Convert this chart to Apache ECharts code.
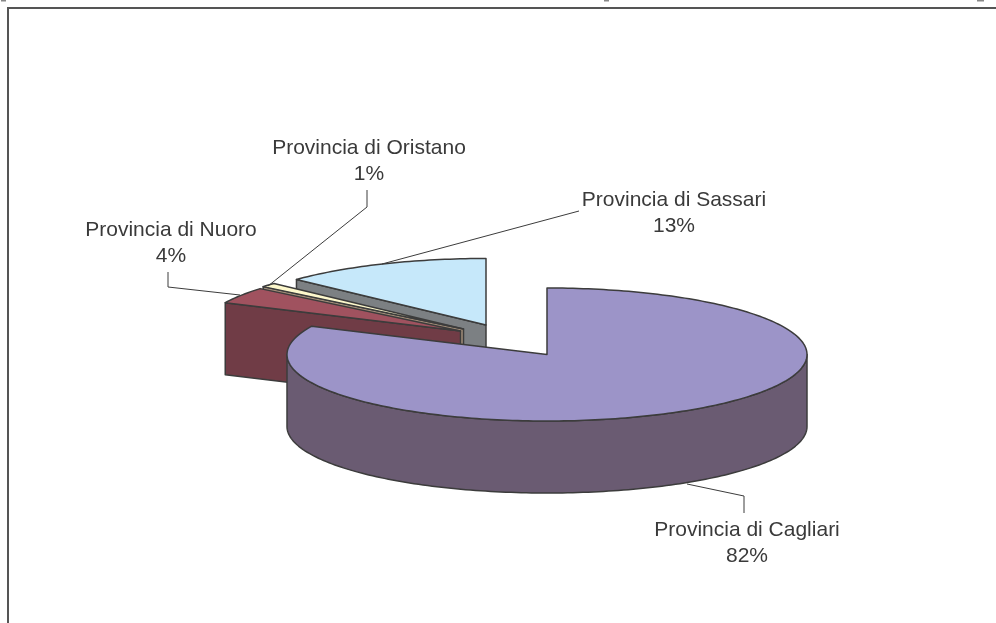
<!DOCTYPE html>
<html>
<head>
<meta charset="utf-8">
<style>
  html, body { margin: 0; padding: 0; background: #fff; }
  #chart { width: 996px; height: 623px; }
</style>
<script src="https://cdn.jsdelivr.net/npm/echarts@6/dist/echarts.min.js"></script>
</head>
<body>
<div id="chart"></div>
<script>
  var names = ['Provincia di Cagliari', 'Provincia di Nuoro', 'Provincia di Oristano', 'Provincia di Sassari'];
  var percents = [82, 4, 1, 13];

  // colori: faccia superiore, parete
  var topColors = ['#9c94c8', '#a0525f', '#fdf8cc', '#c6e8fa'];
  var sideColors = ['#6a5b72', '#703c46', '#a08c78', '#7c8083'];

  // layout della torta "esplosa"
  var RX = 260, RY = 66.5, DEPTH = 72;
  var centres = [[547, 354.5], [460.5, 331], [463.5, 329], [486, 325]];
  var labelPos = [[747, 543.5], [171, 243.5], [369, 161.5], [674, 213.5]];
  var leaders = [
    [[744, 513], [744, 496], [687, 484]],
    [[168, 272], [168, 287], [240, 295]],
    [[367, 190], [367, 207], [268, 286]],
    [[579, 211], [382, 264]]
  ];

  var EDGE = '#3c3c3c';
  var TEXT = '#3a3a3a';

  // angoli di partenza in senso orario dalle ore 12
  var starts = [];
  var total = percents.reduce(function (a, b) { return a + b; }, 0);
  var acc = 0;
  percents.forEach(function (v) {
    starts.push(acc / total * Math.PI * 2);
    acc += v;
  });

  function rim(i, a, drop) {
    return [
      centres[i][0] + Math.sin(a) * RX,
      centres[i][1] - Math.cos(a) * RY + (drop || 0)
    ];
  }

  function arc(i, a0, a1, drop) {
    var pts = [];
    var n = Math.max(2, Math.ceil((a1 - a0) / 0.02));
    for (var k = 0; k <= n; k++) {
      pts.push(rim(i, a0 + (a1 - a0) * k / n, drop));
    }
    return pts;
  }

  function poly(points, fill) {
    return {
      type: 'polygon',
      shape: { points: points },
      style: { fill: fill, stroke: EDGE, lineWidth: 1.5, lineJoin: 'round' }
    };
  }

  function renderSlice(params, api) {
    var i = api.value(0);
    var a0 = starts[i];
    var a1 = a0 + percents[i] / total * Math.PI * 2;
    var c = centres[i];
    var children = [];

    // parete del taglio verso l'osservatore
    if (a0 > Math.PI) {
      children.push(poly([c, rim(i, a0), rim(i, a0, DEPTH), [c[0], c[1] + DEPTH]], sideColors[i]));
    }
    // parete esterna, solo la parte davanti
    var w0 = Math.max(a0, Math.PI / 2), w1 = Math.min(a1, Math.PI * 1.5);
    if (w1 > w0) {
      children.push(poly(arc(i, w0, w1).concat(arc(i, w0, w1, DEPTH).reverse()), sideColors[i]));
    }
    children.push(poly([c].concat(arc(i, a0, a1)), topColors[i]));
    return { type: 'group', children: children };
  }

  function renderLabel(params, api) {
    var i = api.value(0);
    return {
      type: 'group',
      children: [
        {
          type: 'polyline',
          shape: { points: leaders[i] },
          style: { fill: null, stroke: EDGE, lineWidth: 1 }
        },
        {
          type: 'text',
          style: {
            x: labelPos[i][0],
            y: labelPos[i][1],
            text: names[i] + '\n' + percents[i] + '%',
            align: 'center',
            verticalAlign: 'middle',
            fontFamily: 'Liberation Sans',
            fontSize: 21,
            lineHeight: 26,
            fill: TEXT
          }
        }
      ]
    };
  }

  var myChart = echarts.init(document.getElementById('chart'));
  myChart.setOption({
    animation: false,
    backgroundColor: '#fff',
    graphic: [
      {
        type: 'polyline',
        shape: { points: [[8, 623], [8, 8], [996, 8]] },
        style: { fill: null, stroke: '#555', lineWidth: 2 }
      },
      // resti di testo tagliato sul bordo alto
      { type: 'rect', shape: { x: 1, y: 0, width: 5, height: 1.5 }, style: { fill: '#888' } },
      { type: 'rect', shape: { x: 604, y: 0, width: 5, height: 1.5 }, style: { fill: '#888' } },
      { type: 'rect', shape: { x: 977, y: 0, width: 7, height: 1.5 }, style: { fill: '#888' } }
    ],
    series: [
      {
        type: 'custom',
        coordinateSystem: 'none',
        renderItem: renderSlice,
        // dal fondo verso il davanti
        data: [[3], [2], [1], [0]]
      },
      {
        type: 'custom',
        coordinateSystem: 'none',
        renderItem: renderLabel,
        z: 3,
        data: [[0], [1], [2], [3]]
      }
    ]
  });
</script>
</body>
</html>
